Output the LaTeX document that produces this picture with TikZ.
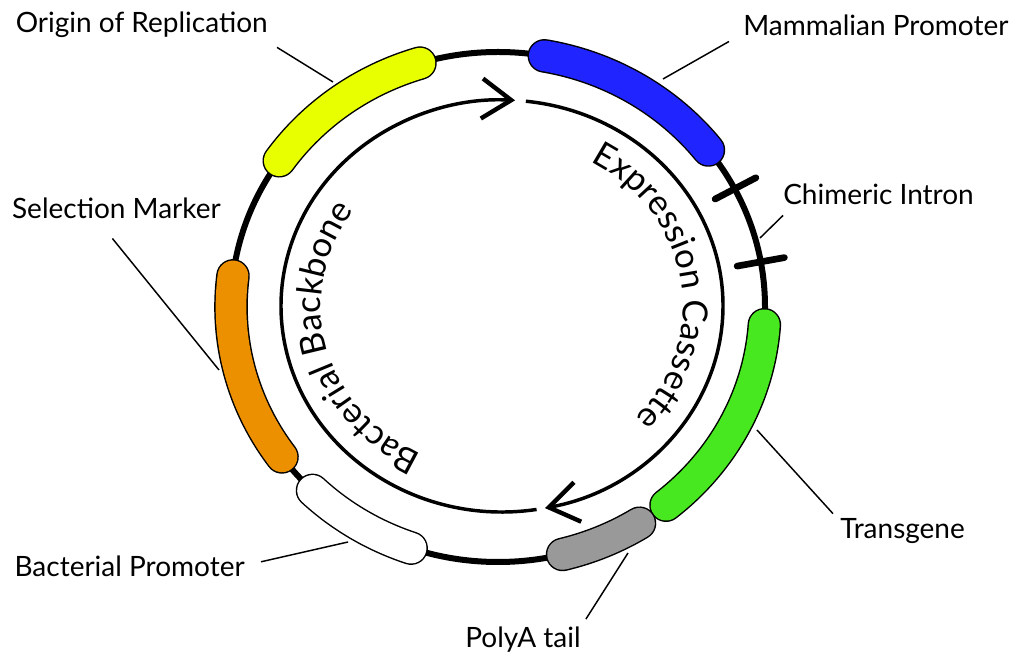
\documentclass[tikz,border=0pt]{standalone}
\usepackage{fontspec}
\setmainfont{Lato}
\usetikzlibrary{arrows.meta,decorations.text,calc}

\definecolor{oriyellow}{RGB}{232,255,0}
\definecolor{promblue}{RGB}{32,36,255}
\definecolor{genegreen}{RGB}{72,232,32}
\definecolor{selorange}{RGB}{236,144,0}
\definecolor{tailgray}{RGB}{153,153,153}

\newcommand\curvefont{\fontsize{26}{30}\selectfont}

\begin{document}
\begin{tikzpicture}[x=0.75pt,y=0.75pt,
  lbl/.style={font=\fontsize{21}{25}\selectfont, inner sep=0pt},
  part/.style={draw=black, line width=1.1pt, double=#1, double distance=23pt, line cap=round},
  leader/.style={line width=1.1pt},
  ring/.style={line width=4.5pt},
  cut/.style={line width=5pt, line cap=round},
  flow/.style={line width=2.6pt, -{Straight Barb[length=22pt,width=30pt,line width=3.3pt]}}]
  \useasboundingbox (0,0) rectangle (1014,657);

  % centres of the two rings
  \coordinate (oc) at (498,350);
  \coordinate (ic) at (502,351);

  % plasmid
  \draw[ring] (oc) ellipse [x radius=267, y radius=255];

  % parts on the plasmid
  \draw[part=oriyellow] ([shift={(oc)}]107:267 and 255) arc[start angle=107, end angle=145, x radius=267, y radius=255];
  \draw[part=promblue] ([shift={(oc)}]38:267 and 255) arc[start angle=38, end angle=80, x radius=267, y radius=255];
  \draw[part=genegreen] ([shift={(oc)}]-51:267 and 255) arc[start angle=-51, end angle=-4, x radius=267, y radius=255];
  \draw[part=tailgray] ([shift={(oc)}]-76:267 and 255) arc[start angle=-76, end angle=-58, x radius=267, y radius=255];
  \draw[part=white] ([shift={(oc)}]-134:267 and 255) arc[start angle=-134, end angle=-109, x radius=267, y radius=255];
  \draw[part=selorange] ([shift={(oc)}]173:267 and 255) arc[start angle=173, end angle=216, x radius=267, y radius=255];

  % intron cuts
  \draw[cut] ([shift={(oc)}]27.6:245 and 233) -- ([shift={(oc)}]27.6:291 and 279);
  \draw[cut] ([shift={(oc)}]10.2:243 and 231) -- ([shift={(oc)}]10.2:291 and 279);

  % inner arrows
  \draw[flow] ([shift={(ic)}]279:221 and 206) arc[start angle=279, end angle=86.6, x radius=221, y radius=206];
  \draw[flow] ([shift={(ic)}]83.8:221 and 206) arc[start angle=83.8, end angle=-78.8, x radius=221, y radius=206];

  \path[decorate, decoration={text along path, text align=center,
      text={|\curvefont|Expression Cassette}}]
    ([shift={(ic)}]64:181 and 166) arc[start angle=64, end angle=-46, x radius=181, y radius=166];
  \path[decorate, decoration={text along path, text align=center,
      text={|\curvefont|Bacterial Backbone}}]
    ([shift={(ic)}]249:181 and 166) arc[start angle=249, end angle=139, x radius=181, y radius=166];

  % labels
  \coordinate (orip) at (333,575);
  \coordinate (mamp) at (663,578);
  \coordinate (chip) at (760,419);
  \coordinate (selp) at (219,287);
  \coordinate (trap) at (757,227);
  \coordinate (bacp) at (348,115);
  \coordinate (polp) at (628,104);

  \node[lbl, anchor=base east] (ori) at (268,624) {Origin of Replication};
  \node[lbl, anchor=base west] (mam) at (743,621) {Mammalian Promoter};
  \node[lbl, anchor=base west] (chi) at (783,452) {Chimeric Intron};
  \node[lbl, anchor=base east] (sel) at (221,438) {Selection Marker};
  \node[lbl, anchor=base west] (tra) at (840,118) {Transgene};
  \node[lbl, anchor=base east] (bac) at (245,80) {Bacterial Promoter};
  \node[lbl, anchor=base] (pol) at (523,10) {PolyA tail};

  \draw[leader] ($(ori.south east)+(9,-9)$) -- (orip);
  \draw[leader] ($(mam.south west)+(-14,-5)$) -- (mamp);
  \draw[leader] ($(chi.south west)+(0,-10)$) -- (chip);
  \draw[leader] ($(sel.south)+(-4,-19)$) -- (selp);
  \draw[leader] ($(tra.north west)+(-7,5)$) -- (trap);
  \draw[leader] ($(bac.east)+(16,5)$) -- (bacp);
  \draw[leader] ($(pol.north east)+(5,7)$) -- (polp);
\end{tikzpicture}
\end{document}
